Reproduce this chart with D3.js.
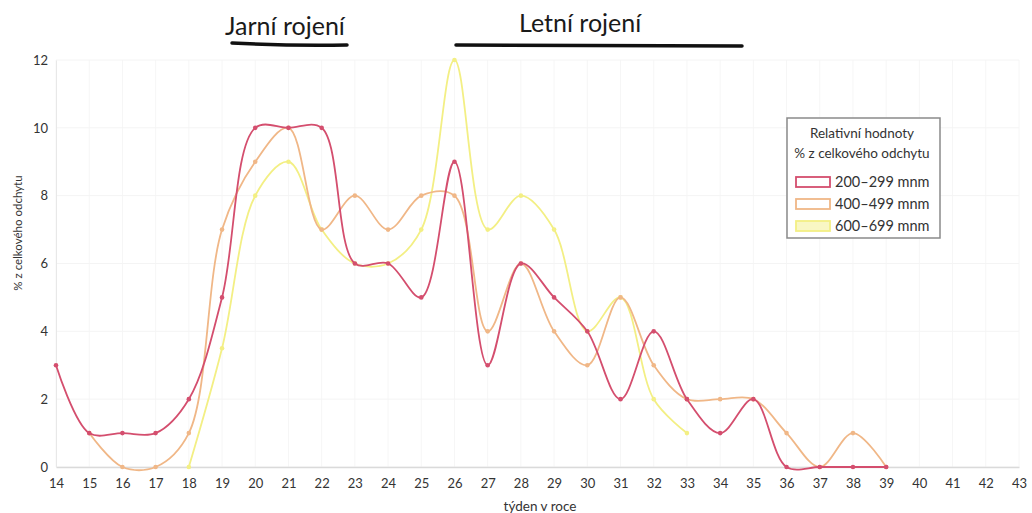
<!DOCTYPE html>
<html>
<head>
<meta charset="utf-8">
<script src="https://cdn.jsdelivr.net/npm/d3@7"></script>
<style>
  body { margin: 0; background: #fff; }
  text { font-family: Lato, "Open Sans", sans-serif; }
</style>
</head>
<body>
<svg id="chart" width="1032" height="513"></svg>
<script>
// week labels on the x axis
var weeks = d3.range(14, 44);
var yTicks = [0, 2, 4, 6, 8, 10, 12];

// series values, one per week starting at the given first week
var lowWeeks  = d3.range(14, 40);
var lowVals   = [3, 1, 1, 1, 2, 5, 10, 10, 10, 6, 6, 5, 9, 3, 6, 5, 4, 2, 4, 2, 1, 2, 0, 0, 0, 0];
var midWeeks  = d3.range(15, 40);
var midVals   = [1, 0, 0, 1, 7, 9, 10, 7, 8, 7, 8, 8, 4, 6, 4, 3, 5, 3, 2, 2, 2, 1, 0, 1, 0];
var highWeeks = d3.range(18, 34);
var highVals  = [0, 3.5, 8, 9, 7, 6, 6, 7, 12, 7, 8, 7, 4, 5, 2, 1];

var seriesNames = ["200–299 mnm", "400–499 mnm", "600–699 mnm"];
var seriesColors = ["#d44e6e", "#f0b787", "#f3ef84"];

var svg = d3.select("#chart");

var x = d3.scaleLinear().domain([14, 43]).range([56, 1019]);
var y = d3.scaleLinear().domain([0, 12]).range([467, 60]);

// faint grid
svg.append("g").selectAll("line").data(weeks).enter().append("line")
    .attr("x1", function(d){ return x(d); }).attr("x2", function(d){ return x(d); })
    .attr("y1", y(12)).attr("y2", y(0))
    .style("stroke", "#f6f6f6");
svg.append("g").selectAll("line").data(yTicks).enter().append("line")
    .attr("x1", x(14)).attr("x2", x(43))
    .attr("y1", function(d){ return y(d); }).attr("y2", function(d){ return y(d); })
    .style("stroke", "#f4f4f4");

// axes
var xAxis = svg.append("g").attr("transform", "translate(0," + y(0) + ")")
    .call(d3.axisBottom(x).tickValues(weeks).tickFormat(d3.format("d")).tickSize(0).tickPadding(12));
xAxis.select(".domain").style("stroke", "#dadada").style("stroke-width", 1.5);
xAxis.selectAll("text").style("font-size", "13px").style("fill", "#333");

var yAxis = svg.append("g").attr("transform", "translate(" + x(14) + ",0)")
    .call(d3.axisLeft(y).tickValues(yTicks).tickSize(0).tickPadding(8));
yAxis.select(".domain").style("stroke", "#e8e8e8");
yAxis.selectAll("text").style("font-size", "13px").style("fill", "#333");

svg.append("text").attr("x", 540).attr("y", 511).attr("text-anchor", "middle")
    .style("font-size", "13.5px").style("fill", "#333").text("týden v roce");
svg.append("text").attr("transform", "translate(22,233) rotate(-90)").attr("text-anchor", "middle")
    .style("font-size", "11.5px").style("fill", "#333").text("% z celkového odchytu");

// lines
var line = d3.line()
    .x(function(d){ return x(d[0]); })
    .y(function(d){ return y(d[1]); })
    .curve(d3.curveCatmullRom.alpha(0.5));

var series = [
  d3.zip(highWeeks, highVals),
  d3.zip(midWeeks, midVals),
  d3.zip(lowWeeks, lowVals)
];
var colors = [seriesColors[2], seriesColors[1], seriesColors[0]];

series.forEach(function(s, i){
    var g = svg.append("g");
    g.append("path").datum(s).attr("d", line)
        .style("fill", "none").style("stroke", colors[i]).style("stroke-width", 1.8);
    g.selectAll("circle").data(s).enter().append("circle")
        .attr("cx", function(d){ return x(d[0]); })
        .attr("cy", function(d){ return y(d[1]); })
        .attr("r", 2.3)
        .style("fill", colors[i]);
});

// legend
var lg = svg.append("g");
lg.append("rect").attr("x", 787).attr("y", 118).attr("width", 153).attr("height", 120)
    .style("fill", "#fff").style("stroke", "#8a8a8a").style("stroke-width", 1.5);
lg.append("text").attr("x", 862).attr("y", 138).attr("text-anchor", "middle")
    .style("font-size", "13.5px").style("fill", "#333").text("Relativní hodnoty");
lg.append("text").attr("x", 862).attr("y", 158).attr("text-anchor", "middle")
    .style("font-size", "13.5px").style("fill", "#333").text("% z celkového odchytu");
seriesNames.forEach(function(n, i){
    var cy = 182 + i * 22;
    lg.append("rect").attr("x", 796).attr("y", cy - 5).attr("width", 34).attr("height", 10)
        .style("fill", i == 2 ? "#f9f7c4" : "#fff").style("stroke", seriesColors[i]).style("stroke-width", 1.8);
    lg.append("text").attr("x", 835).attr("y", cy + 5)
        .style("font-size", "14.5px").style("fill", "#333").text(n);
});

// season annotations
svg.append("text").attr("x", 225).attr("y", 35).style("font-size", "25px").style("fill", "#1a1a1a").text("Jarní rojení");
svg.append("text").attr("x", 519).attr("y", 32).style("font-size", "25px").style("fill", "#1a1a1a").text("Letní rojení");
svg.append("path").attr("d", "M232,43 Q290,46 347,45").style("fill", "none").style("stroke", "#111").style("stroke-width", 3.5).style("stroke-linecap", "round");
svg.append("path").attr("d", "M456,45 L742,46").style("fill", "none").style("stroke", "#111").style("stroke-width", 3.5).style("stroke-linecap", "round");
</script>
</body>
</html>
